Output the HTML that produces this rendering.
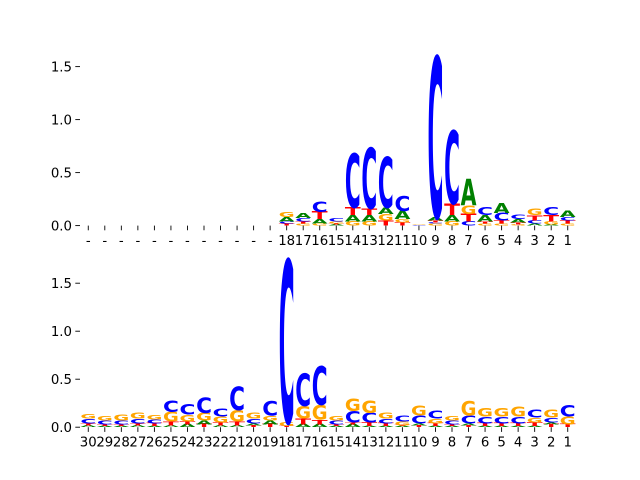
<!DOCTYPE html>
<html><head><meta charset="utf-8"><style>
html,body{margin:0;padding:0;background:#fff;}
svg{display:block;font-family:"DejaVu Sans","Liberation Sans",sans-serif;}
</style></head><body>
<svg id="chart" width="640" height="480" viewBox="0 0 640 480"></svg>
<script>
const colors = {A:'#008000', C:'#0000ff', G:'#ffa500', T:'#ff0000'};
const topLabels = ['-','-','-','-','-','-','-','-','-','-','-','-','18','17','16','15','14','13','12','11','10','9','8','7','6','5','4','3','2','1'];
const topStacks = [
 [],[],[],[],[],[],[],[],[],[],[],[],
 [['T',.02],['C',.02],['A',.04],['G',.05]],
 [['G',.02],['T',.02],['C',.03],['A',.05]],
 [['G',.02],['A',.04],['T',.07],['C',.1]],
 [['A',.01],['T',.01],['G',.02],['C',.03]],
 [['G',.04],['A',.06],['T',.07],['C',.51]],
 [['G',.04],['A',.06],['T',.06],['C',.57]],
 [['T',.05],['G',.06],['A',.06],['C',.48]],
 [['T',.03],['G',.03],['A',.08],['C',.14]],
 [['C',.005],['G',.005]],
 [['G',.02],['C',.01],['T',.02],['A',.03],['C',1.51]],
 [['G',.04],['A',.06],['T',.11],['C',.69]],
 [['C',.04],['T',.07],['G',.08],['A',.25]],
 [['G',.02],['T',.02],['A',.06],['C',.07]],
 [['G',.02],['T',.03],['C',.07],['A',.09]],
 [['G',.01],['T',.02],['A',.03],['C',.04]],
 [['A',.02],['C',.03],['T',.05],['G',.06]],
 [['A',.01],['G',.03],['T',.06],['C',.07]],
 [['G',.02],['T',.03],['C',.03],['A',.06]]
];
const botLabels = ['30','29','28','27','26','25','24','23','22','21','20','19','18','17','16','15','14','13','12','11','10','9','8','7','6','5','4','3','2','1'];
const botStacks = [
 [['A',.02],['T',.02],['C',.05],['G',.05]],
 [['A',.01],['T',.02],['C',.04],['G',.05]],
 [['A',.01],['T',.02],['C',.04],['G',.06]],
 [['A',.02],['T',.02],['C',.05],['G',.06]],
 [['A',.01],['T',.03],['C',.04],['G',.05]],
 [['A',.02],['T',.04],['G',.1],['C',.12]],
 [['A',.03],['T',.03],['G',.07],['C',.11]],
 [['T',.03],['A',.04],['G',.08],['C',.16]],
 [['A',.02],['T',.03],['G',.06],['C',.08]],
 [['A',.02],['T',.04],['G',.12],['C',.24]],
 [['T',.02],['A',.02],['C',.05],['G',.06]],
 [['T',.03],['A',.04],['G',.05],['C',.15]],
 [['T',.01],['G',.04],['C',1.69]],
 [['A',.03],['T',.06],['G',.13],['C',.34]],
 [['A',.03],['T',.05],['G',.15],['C',.4]],
 [['A',.01],['T',.02],['C',.04],['G',.05]],
 [['A',.03],['T',.02],['C',.12],['G',.13]],
 [['A',.01],['T',.04],['C',.1],['G',.13]],
 [['A',.01],['T',.03],['C',.05],['G',.06]],
 [['A',.01],['T',.01],['G',.04],['C',.06]],
 [['T',.02],['A',.02],['C',.08],['G',.1]],
 [['A',.01],['T',.03],['G',.05],['C',.08]],
 [['A',.01],['T',.02],['C',.04],['G',.05]],
 [['T',.02],['A',.02],['C',.08],['G',.15]],
 [['A',.01],['T',.03],['C',.07],['G',.09]],
 [['A',.01],['T',.03],['C',.07],['G',.09]],
 [['A',.01],['T',.03],['C',.07],['G',.1]],
 [['A',.01],['T',.04],['G',.05],['C',.08]],
 [['T',.03],['A',.02],['C',.05],['G',.08]],
 [['T',.03],['G',.08],['C',.12]]
];
const yTicks = [0, 0.5, 1.0, 1.5];
const yTickLabels = ['0.0','0.5','1.0','1.5'];

const NS='http://www.w3.org/2000/svg';
const svg=document.getElementById('chart');
function mk(tag, attrs, parent){const e=document.createElementNS(NS,tag);for(const k in attrs)e.setAttribute(k,attrs[k]);(parent||svg).appendChild(e);return e;}

function panel(name, top, bottom, ymax, labels, stacks){
  const g=mk('g',{});
  
  
  const left=80, right=576, n=labels.length;
  const cw=(right-left)/n;
  const xc=i=>left+cw*(i+0.5);
  const ys=v=>bottom-(v/ymax)*(bottom-top);
  yTicks.forEach((t,i)=>{
    const y=ys(t);
    const tk=mk('line',{x1:left-4.7,x2:left,y1:y,y2:y,stroke:'#000','stroke-width':0.9},g);
    
    
    const tl=mk('text',{x:left-8,y:y+4.8,'text-anchor':'end','font-size':13.3,fill:'#000'},g);
    tl.textContent=yTickLabels[i];
    
    
  });
  labels.forEach((lab,i)=>{
    const x=xc(i);
    const tk=mk('line',{x1:x,x2:x,y1:bottom,y2:bottom+4.7,stroke:'#000','stroke-width':0.9},g);
    
    
    const tl=mk('text',{x:x,y:bottom+19.5,'text-anchor':'middle','font-size':13.3,fill:'#000'},g);
    tl.textContent=lab;
    
    
  });
  stacks.forEach((st,i)=>{
    let acc=0;
    st.forEach(([ch,h])=>{
      const y0=ys(acc), y1=ys(acc+h);
      const ph=y0-y1;
      acc+=h;
      if(ph<=0.05) return;
      const sy=ph/72.9;
      const t=mk('text',{x:0,y:0,'font-size':100,'font-weight':'bold',fill:colors[ch],
        textLength:cw*0.96,lengthAdjust:'spacingAndGlyphs',
        transform:`translate(${xc(i)-cw*0.48},${y0}) scale(1,${sy})`},g);
      t.textContent=ch;
      
      
    });
  });
}
panel('top-logo-panel', 57.6, 225.6, 1.585, topLabels, topStacks);
panel('bottom-logo-panel', 259.2, 427.2, 1.75, botLabels, botStacks);
</script>
</body></html>
